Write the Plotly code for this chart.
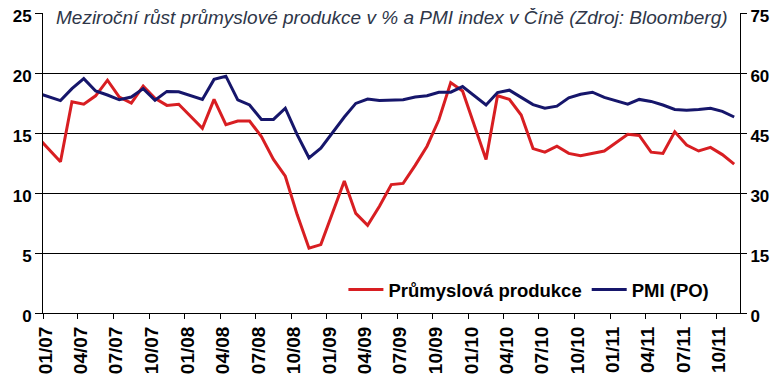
import plotly.graph_objects as go

# Months (January values are not reported separately; Dec 2006 lies left of the axis start)
months = (
    ["2006-12-01"]
    + ["2007-%02d-01" % m for m in range(2, 13)]
    + ["2008-%02d-01" % m for m in range(2, 13)]
    + ["2009-%02d-01" % m for m in range(2, 13)]
    + ["2010-%02d-01" % m for m in range(2, 13)]
    + ["2011-%02d-01" % m for m in range(2, 12)]
)

prumyslova_produkce = [
    14.7,
    12.6, 17.6, 17.4, 18.1, 19.4, 18.0, 17.5, 18.9, 17.9, 17.3, 17.4,
    15.4, 17.8, 15.7, 16.0, 16.0, 14.7, 12.8, 11.4, 8.2, 5.4, 5.7,
    11.0, 8.3, 7.3, 8.9, 10.7, 10.8, 12.3, 13.9, 16.1, 19.2, 18.5,
    12.8, 18.1, 17.8, 16.5, 13.7, 13.4, 13.9, 13.3, 13.1, 13.3, 13.5,
    14.9, 14.8, 13.4, 13.3, 15.1, 14.0, 13.5, 13.8, 13.2, 12.4,
]

pmi = [
    55.0,
    53.1, 56.1, 58.6, 55.5, 54.5, 53.3, 54.0, 56.1, 53.2, 55.4, 55.3,
    53.4, 58.4, 59.2, 53.3, 52.0, 48.4, 48.4, 51.2, 44.6, 38.8, 41.2,
    49.0, 52.4, 53.5, 53.1, 53.2, 53.3, 54.0, 54.3, 55.2, 55.2, 56.6,
    52.0, 55.1, 55.7, 53.9, 52.1, 51.2, 51.7, 53.8, 54.7, 55.2, 53.9,
    52.2, 53.4, 52.9, 52.0, 50.9, 50.7, 50.9, 51.2, 50.4, 49.0,
]

title_text = "Meziroční růst průmyslové produkce v % a PMI index v Číně (Zdroj: Bloomberg)"
left_ticks = [0, 5, 10, 15, 20, 25]
right_ticks = [0, 15, 30, 45, 60, 75]

FONT = "Arial, Liberation Sans, sans-serif"
RED = "#d81e22"
BLUE = "#16166b"

fig = go.Figure()
fig.add_trace(go.Scatter(
    x=months, y=prumyslova_produkce, name="Průmyslová produkce",
    mode="lines", line=dict(color=RED, width=3),
    xperiod="M1", xperiodalignment="middle",
))
fig.add_trace(go.Scatter(
    x=months, y=pmi, name="PMI (PO)", yaxis="y2",
    mode="lines", line=dict(color=BLUE, width=3),
    xperiod="M1", xperiodalignment="middle",
))

# page body has an 8px margin: figure is sized so it fits the 782x382 window
fig.update_layout(
    width=774, height=374,
    margin=dict(l=35, r=42, t=5, b=69, autoexpand=False),
    paper_bgcolor="white", plot_bgcolor="white",
    font=dict(family=FONT, color="black"),
    showlegend=True,
    legend=dict(
        orientation="h", x=0.431, xanchor="left", y=0.077, yanchor="middle",
        itemwidth=35,
        font=dict(family=FONT, size=18.5, color="black", weight="bold"),
        bgcolor="rgba(255,255,255,0)", borderwidth=0,
    ),
    xaxis=dict(
        type="date", range=["2007-01-01", "2011-12-01"], automargin=False,
        tickmode="linear", tick0="2007-01-01", dtick="M3", tickformat="%m/%y",
        tickangle=-90, ticks="outside", ticklen=5, tickcolor="black",
        ticklabelshift=3, ticklabeloverflow="allow",
        showline=True, linecolor="black", linewidth=1, showgrid=False,
        tickfont=dict(family=FONT, size=19, color="black", weight="bold"),
    ),
    yaxis=dict(
        range=[0, 25], tickvals=left_ticks, automargin=False, ticklabeloverflow="allow",
        ticklabelshift=3,
        ticks="outside", ticklen=7, tickcolor="black",
        showline=True, linecolor="black", linewidth=1,
        showgrid=True, gridcolor="black", gridwidth=1, zeroline=False,
        tickfont=dict(family=FONT, size=17, color="black", weight="bold"),
    ),
    yaxis2=dict(
        range=[0, 75], tickvals=right_ticks, overlaying="y", side="right",
        automargin=False, ticklabeloverflow="allow", ticklabelshift=3,
        ticks="outside", ticklen=6, tickcolor="black",
        showline=True, linecolor="black", linewidth=1,
        showgrid=False, zeroline=False,
        tickfont=dict(family=FONT, size=17, color="black", weight="bold"),
    ),
    annotations=[dict(
        text=title_text, xref="paper", yref="paper", x=0.5, y=1.0,
        xanchor="center", yanchor="middle", yshift=-4, showarrow=False,
        bgcolor="white", borderpad=0,
        font=dict(family=FONT, size=19, color="#2e3648", style="italic"),
    )],
)

fig.write_html("out.html")
